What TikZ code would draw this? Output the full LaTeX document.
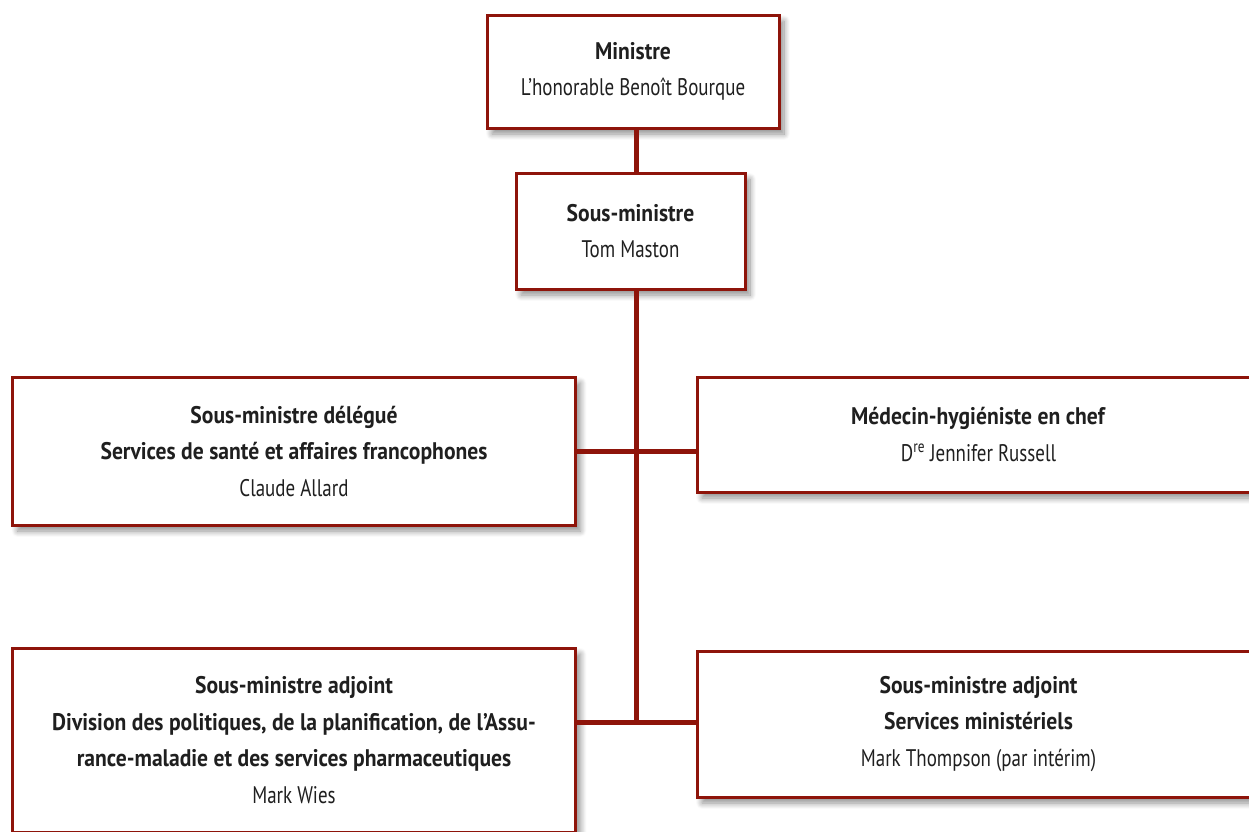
\documentclass[tikz,border=0pt]{standalone}
\usepackage{fontspec}
\setmainfont{PT Sans}[UprightFeatures={FakeStretch=0.79}, BoldFeatures={FakeStretch=0.9}]
\usetikzlibrary{shadows.blur}
\definecolor{wine}{RGB}{142,20,10}
\tikzstyle{post} = [rectangle, draw=wine, line width=3pt, fill=white, inner sep=0pt, minimum width=563, align=center, text=black!88, font=\fontsize{24}{36.5}\selectfont, blur shadow={shadow xshift=5pt, shadow yshift=-6pt, shadow blur radius=6pt, shadow blur steps=10, shadow opacity=45}]
\tikzstyle{link} = [draw=wine, line width=5pt]
\begin{document}
\begin{tikzpicture}[x=1pt, y=-1pt]
            \useasboundingbox (0,0) rectangle (1249,831);
            \node[post, minimum width=292, minimum height=113] (minis) at (633,71.5) {\textbf{Ministre}\\L’honorable Benoît Bourque};
            \node[post, minimum width=229, minimum height=116] (sous) at (630.5,231) {\textbf{Sous-ministre}\\Tom Maston};
            \node[post, minimum height=148] (deleg) at (294,451) {\textbf{Sous-ministre délégué}\\\textbf{Services de santé et affaires francophones}\\Claude Allard};
            \node[post, minimum height=115] (medecin) at (978.5,434.5) {\textbf{Médecin-hygiéniste en chef}\\D\textsuperscript{re} Jennifer Russell};
            \node[post, minimum height=184] (adjpol) at (294,740) {\textbf{Sous-ministre adjoint}\\\textbf{Division des politiques, de la planification, de l’Assu-}\\\textbf{rance-maladie et des services pharmaceutiques}\\Mark Wies};
            \node[post, minimum height=146] (adjserv) at (978.5,724) {\textbf{Sous-ministre adjoint}\\\textbf{Services ministériels}\\Mark Thompson (par intérim)};
            \coordinate (j1) at (636,451);
            \coordinate (j2) at (636,722);
            \draw[link] (minis.south -| j1) -- (sous.north -| j1);
            \draw[link] (sous.south -| j1) -- (j2);
            \draw[link] (deleg.east |- j1) -- (medecin.west |- j1);
            \draw[link] (adjpol.east |- j2) -- (adjserv.west |- j2);
\end{tikzpicture}
\end{document}
